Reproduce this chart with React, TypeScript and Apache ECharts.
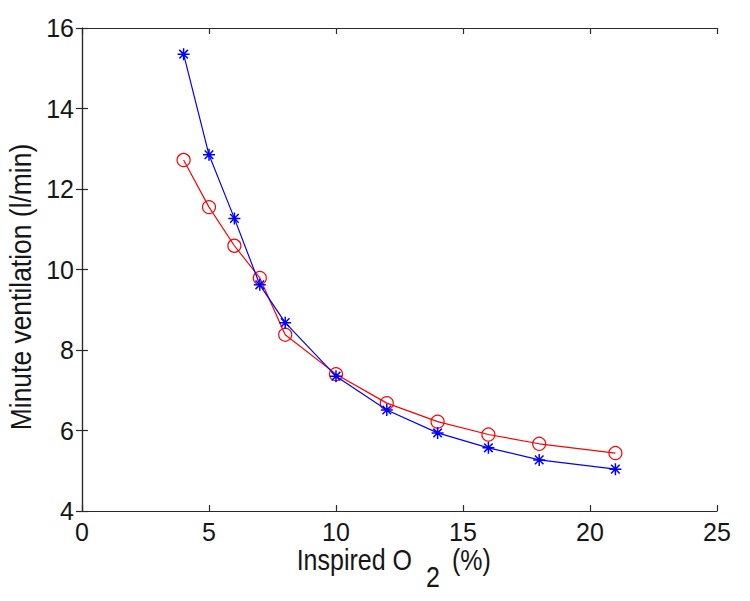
import React, { useEffect, useRef } from "react";
import * as echarts from "echarts";

const inspiredO2 = [4, 5, 6, 7, 8, 10, 12, 14, 16, 18, 21];
const ventilationStar = [15.35, 12.85, 11.27, 9.62, 8.68, 7.35, 6.51, 5.94, 5.57, 5.27, 5.04];
const ventilationCircle = [12.72, 11.55, 10.59, 9.79, 8.38, 7.40, 6.68, 6.22, 5.90, 5.67, 5.44];
const xTicks = { min: 0, max: 25, interval: 5 };
const yTicks = { min: 4, max: 16, interval: 2 };

const FONT = "'Liberation Sans', Arial, Helvetica, sans-serif";
const TXT = "#161616";
const AX = "#2a2a2a";

const STAR = "path://M0,-6L0,6M-6,0L6,0M-4.3,-4.3L4.3,4.3M-4.3,4.3L4.3,-4.3";

export default function App() {
  const ref = useRef<HTMLDivElement>(null);
  useEffect(() => {
    if (!ref.current) return;
    const chart = echarts.init(ref.current, undefined, { renderer: "svg" });
    const axisCommon = {
      type: "value" as const,
      axisLine: { show: true, lineStyle: { color: AX, width: 1.2 } },
      axisTick: { show: true, inside: true, length: 6, lineStyle: { color: AX, width: 1.2 } },
      splitLine: { show: false },
    };
    const labelStyle = { fontSize: 25, color: TXT, fontFamily: FONT };
    chart.setOption({
      animation: false,
      backgroundColor: "#ffffff",
      grid: { left: 82, right: 33, top: 28, bottom: 90, containLabel: false },
      xAxis: [
        { ...axisCommon, position: "bottom", ...xTicks, axisLabel: { ...labelStyle, margin: 8 } },
        { ...axisCommon, position: "top", ...xTicks, axisLabel: { show: false } },
      ],
      yAxis: [
        { ...axisCommon, position: "left", ...yTicks, axisLabel: { ...labelStyle, margin: 8 } },
        { ...axisCommon, position: "right", ...yTicks, axisLabel: { show: false } },
      ],
      series: [
        {
          type: "line",
          xAxisIndex: 0,
          yAxisIndex: 0,
          data: inspiredO2.map((x, i) => [x, ventilationCircle[i]]),
          symbol: "circle",
          symbolSize: 13,
          showAllSymbol: true,
          lineStyle: { color: "#ff0000", width: 1.2 },
          itemStyle: { color: "rgba(0,0,0,0)", borderColor: "#ff0000", borderWidth: 1.2 },
          z: 2,
        },
        {
          type: "line",
          xAxisIndex: 0,
          yAxisIndex: 0,
          data: inspiredO2.map((x, i) => [x, ventilationStar[i]]),
          symbol: STAR,
          symbolSize: 12,
          showAllSymbol: true,
          lineStyle: { color: "#0000ff", width: 1.2 },
          itemStyle: { color: "#0000ff", borderColor: "#0000ff", borderWidth: 1.5 },
          z: 3,
        },
      ],
      graphic: [
        {
          type: "text",
          x: 21,
          y: 287,
          rotation: Math.PI / 2,
          scaleX: 1.15,
          scaleY: 1.25,
          style: {
            text: "Minute ventilation (l/min)",
            font: `23px ${FONT}`,
            fill: TXT,
            textAlign: "center",
            textVerticalAlign: "middle",
          },
        },
        {
          type: "text",
          x: 412,
          y: 575,
          scaleY: 1.2,
          style: { text: "Inspired O", font: `25px ${FONT}`, fill: TXT, textAlign: "right", textVerticalAlign: "bottom" },
        },
        {
          type: "text",
          x: 426,
          y: 592,
          scaleY: 1.2,
          style: { text: "2", font: `25px ${FONT}`, fill: TXT, textAlign: "left", textVerticalAlign: "bottom" },
        },
        {
          type: "text",
          x: 452,
          y: 575,
          scaleY: 1.2,
          style: { text: "(%)", font: `25px ${FONT}`, fill: TXT, textAlign: "left", textVerticalAlign: "bottom" },
        },
      ],
    });
    return () => chart.dispose();
  }, []);
  return (
    <div
      ref={ref}
      style={{ position: "fixed", left: 0, top: 0, width: 750, height: 601, background: "#fff" }}
    />
  );
}
